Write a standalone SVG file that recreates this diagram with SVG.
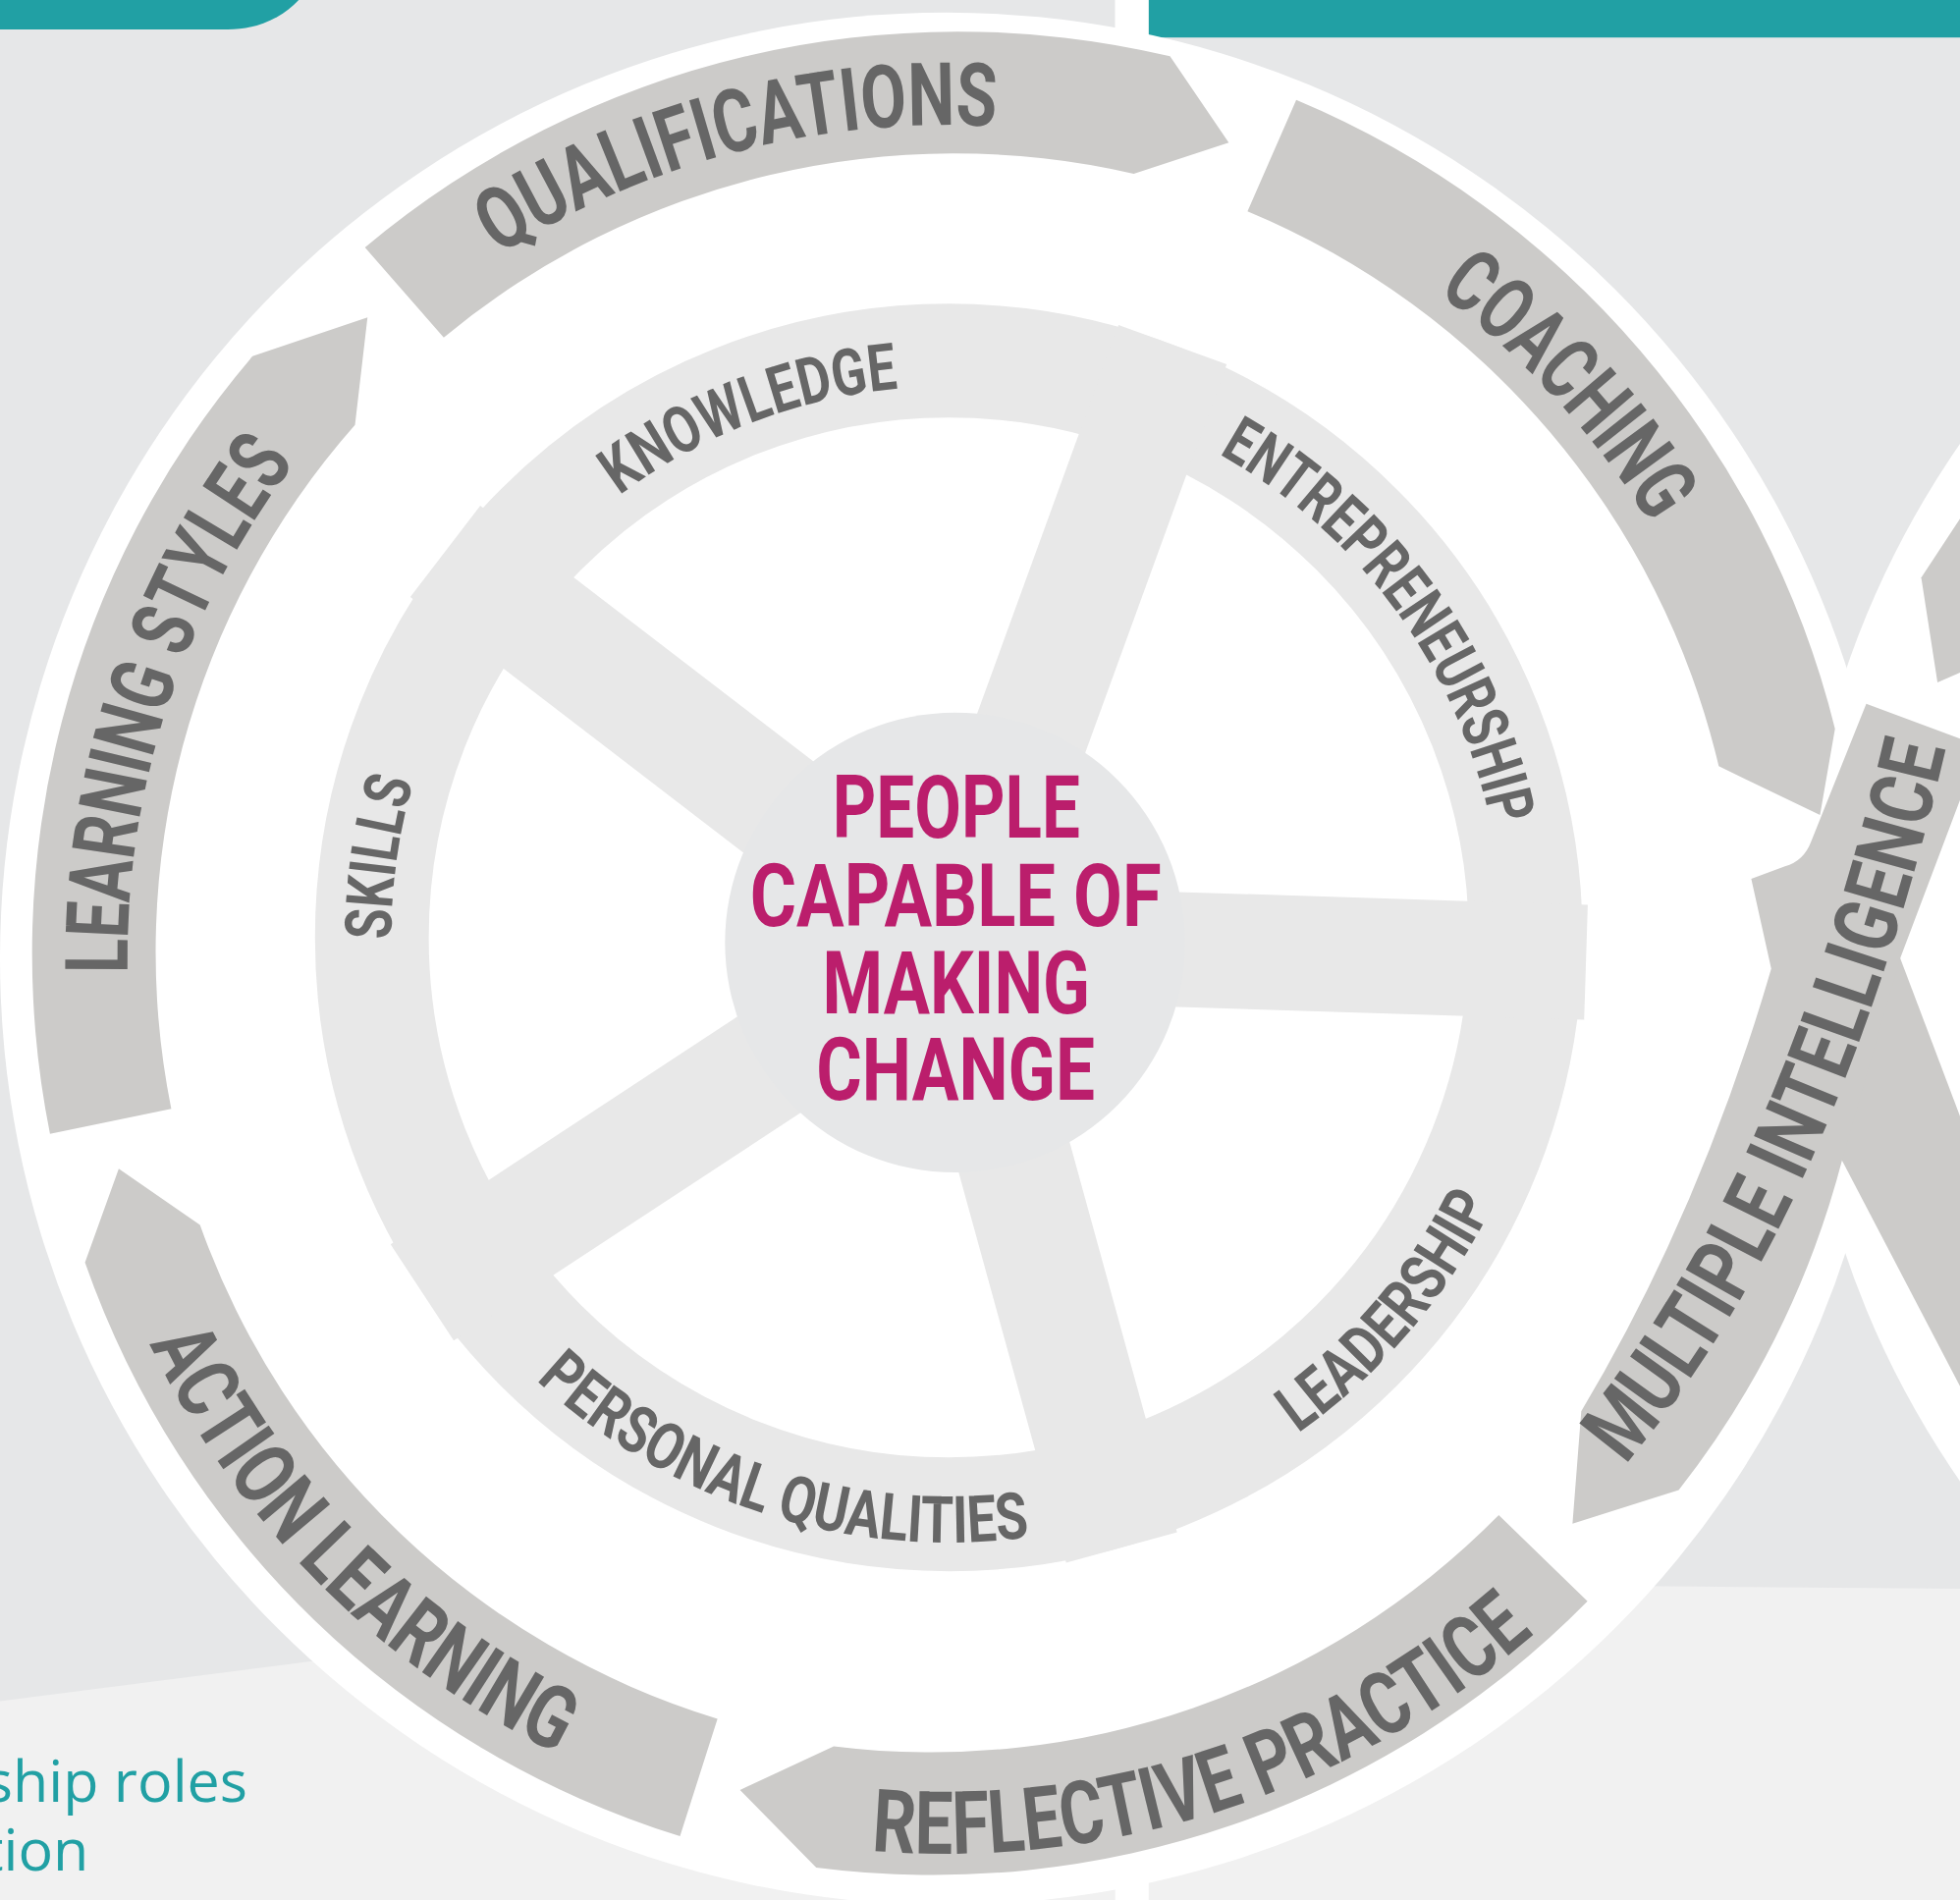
<svg xmlns="http://www.w3.org/2000/svg" width="1996" height="1935" viewBox="0 0 1996 1935">
<style>
.bgtop{fill:#e6e7e8}
.bglow{fill:#f1f1f1}
.teal{fill:#21a0a4}
.white{fill:#ffffff}
.arrow{fill:#cccbc9}
.wheel{fill:#e8e8e8}
.hubc{fill:#e6e7e8}
.lbl{font-family:Roboto,"Liberation Sans","DejaVu Sans",sans-serif;font-weight:700;fill:#666666}
.outer{font-size:70px}
.inner{font-size:52px}
.hubt{font-family:Roboto,"Liberation Sans","DejaVu Sans",sans-serif;font-weight:700;font-size:69.6px;fill:#bb1e6c}
.side{font-family:"Open Sans","Noto Sans",sans-serif;font-size:46.5px;fill:#21a0a4}
</style>
<defs>
<path id="pQual" d="M398.62,204.46 A667,667 0 0,1 796.56,101.17"/>
<path id="pCoach" d="M1149.84,234.16 A662,662 0 0,1 1320.24,419.14"/>
<path id="pLearn" d="M102.1,778.43 A655,655 0 0,1 235.97,370.08"/>
<path id="pAction" d="M119.57,1075.14 A708,708 0 0,0 445.52,1402.81"/>
<path id="pRefl" d="M697.09,1480.49 A716,716 0 0,0 1227.53,1306.68"/>
<path id="pMulti" d="M1300,1172 Q1470,970 1557,597"/>
<path id="pKnow" d="M495.44,396.42 A441,441 0 0,1 718.26,310.89"/>
<path id="pEntre" d="M975.12,363.3 A443,443 0 0,1 1192.95,660.92"/>
<path id="pSkills" d="M313,751.56 A446,446 0 0,1 330.71,625.57"/>
<path id="pLead" d="M1038.34,1146.48 A485,485 0 0,0 1194.54,963.37"/>
<path id="pPers" d="M428.91,1103.97 A484,484 0 0,0 823.85,1229.63"/>
</defs>
<g transform="scale(1.27296,1.27303)">
<g id="background">
<rect class="bgtop" x="0" y="0" width="1568" height="1520"/>
<polygon class="bglow" points="0,1361 250,1329 892,1247 892,1520 0,1520"/>
<polygon class="bglow" points="919,1266 1335,1269 1568,1271 1568,1520 919,1520"/>
<rect class="white" x="892" y="0" width="27" height="1520"/>
<path class="teal" d="M0,0 H239 C226,14 206,23.6 182,23.6 H0 Z"/>
<rect class="teal" x="919" y="0" width="649" height="30"/>
<circle class="white" cx="2165" cy="770" r="727"/>
<circle class="white" cx="757" cy="767" r="757"/>
<polygon class="arrow" points="1568,415 1537,462 1550,546 1568,538"/>
<polygon class="arrow" points="1492,692 1568,893 1568,1109 1474,929 1437,858"/>
</g>
<g id="outer-arrows">
<g id="qualifications">
<path class="arrow" d="M292,198 A738,738 0 0,1 936,45 L983,114 L907,139 A640,640 0 0,0 355,270 Z"/>
<text class="lbl outer"><textPath href="#pQual" textLength="418" lengthAdjust="spacingAndGlyphs">QUALIFICATIONS</textPath></text>
</g>
<g id="coaching">
<path class="arrow" d="M1037,80 A738,738 0 0,1 1468,583 L1456,652 L1375,613 A640,640 0 0,0 998,169 Z"/>
<text class="lbl outer"><textPath href="#pCoach" textLength="253" lengthAdjust="spacingAndGlyphs">COACHING</textPath></text>
</g>
<g id="multiple-intelligence">
<path class="arrow" d="M1265,1129 L1258,1219 L1343,1192 A728,728 0 0,0 1474,927 L1520,767 L1568,640 L1568,591 L1493,563 L1449,673 Q1443,689 1428,693 L1401,703 L1417,775 Q1360,970 1265,1129 Z"/>
<text class="lbl outer"><textPath href="#pMulti" textLength="634" lengthAdjust="spacingAndGlyphs">MULTIPLE INTELLIGENCE</textPath></text>
</g>
<g id="reflective-practice">
<path class="arrow" d="M1270,1281 A735,735 0 0,1 653,1494 L592,1432 L667,1397 A637,637 0 0,0 1199,1212 Z"/>
<text class="lbl outer"><textPath href="#pRefl" textLength="573" lengthAdjust="spacingAndGlyphs">REFLECTIVE PRACTICE</textPath></text>
</g>
<g id="action-learning">
<path class="arrow" d="M544,1469 A735,735 0 0,1 68,1010 L95,935 L160,980 A637,637 0 0,0 574,1375 Z"/>
<text class="lbl outer"><textPath href="#pAction" textLength="471" lengthAdjust="spacingAndGlyphs">ACTION LEARNING</textPath></text>
</g>
<g id="learning-styles">
<path class="arrow" d="M40,907 A735,735 0 0,1 202,285 L294,254 L284,340 A637,637 0 0,0 137,887 Z"/>
<text class="lbl outer"><textPath href="#pLearn" textLength="438" lengthAdjust="spacingAndGlyphs">LEARNING STYLES</textPath></text>
</g>
</g>
<g id="wheel">
<circle cx="759" cy="750" r="461.5" fill="none" stroke="#e8e8e8" stroke-width="91"/>
<g class="wheel">
<rect x="0" y="-46" width="514" height="92" transform="translate(764,754) rotate(217.5)"/>
<rect x="0" y="-46" width="509" height="92" transform="translate(764,754) rotate(-70)"/>
<rect x="0" y="-46" width="505" height="92" transform="translate(764,754) rotate(1.8)"/>
<rect x="0" y="-46" width="502" height="92" transform="translate(764,754) rotate(74.6)"/>
<rect x="0" y="-46" width="510" height="92" transform="translate(764,754) rotate(146.7)"/>
</g>
<g id="knowledge"><text class="lbl inner"><textPath href="#pKnow" textLength="242" lengthAdjust="spacingAndGlyphs">KNOWLEDGE</textPath></text></g>
<g id="entrepreneurship"><text class="lbl inner"><textPath href="#pEntre" textLength="380" lengthAdjust="spacingAndGlyphs">ENTREPRENEURSHIP</textPath></text></g>
<g id="skills"><text class="lbl inner"><textPath href="#pSkills" textLength="128" lengthAdjust="spacingAndGlyphs">SKILLS</textPath></text></g>
<g id="leadership"><text class="lbl inner"><textPath href="#pLead" textLength="243" lengthAdjust="spacingAndGlyphs">LEADERSHIP</textPath></text></g>
<g id="personal-qualities"><text class="lbl inner"><textPath href="#pPers" textLength="428" lengthAdjust="spacingAndGlyphs">PERSONAL QUALITIES</textPath></text></g>
</g>
<g id="hub">
<circle class="hubc" cx="764" cy="754" r="184"/>
<text class="hubt" x="666" y="670" textLength="198" lengthAdjust="spacingAndGlyphs">PEOPLE</text>
<text class="hubt" x="600" y="741" textLength="329" lengthAdjust="spacingAndGlyphs">CAPABLE OF</text>
<text class="hubt" x="658" y="811" textLength="214" lengthAdjust="spacingAndGlyphs">MAKING</text>
<text class="hubt" x="653" y="880" textLength="223" lengthAdjust="spacingAndGlyphs">CHANGE</text>
</g>
<g id="side-text">
<text class="side" x="198" y="1441.5" text-anchor="end">ship roles</text>
<text class="side" x="71" y="1496.5" text-anchor="end">tion</text>
</g>
</g>
</svg>
